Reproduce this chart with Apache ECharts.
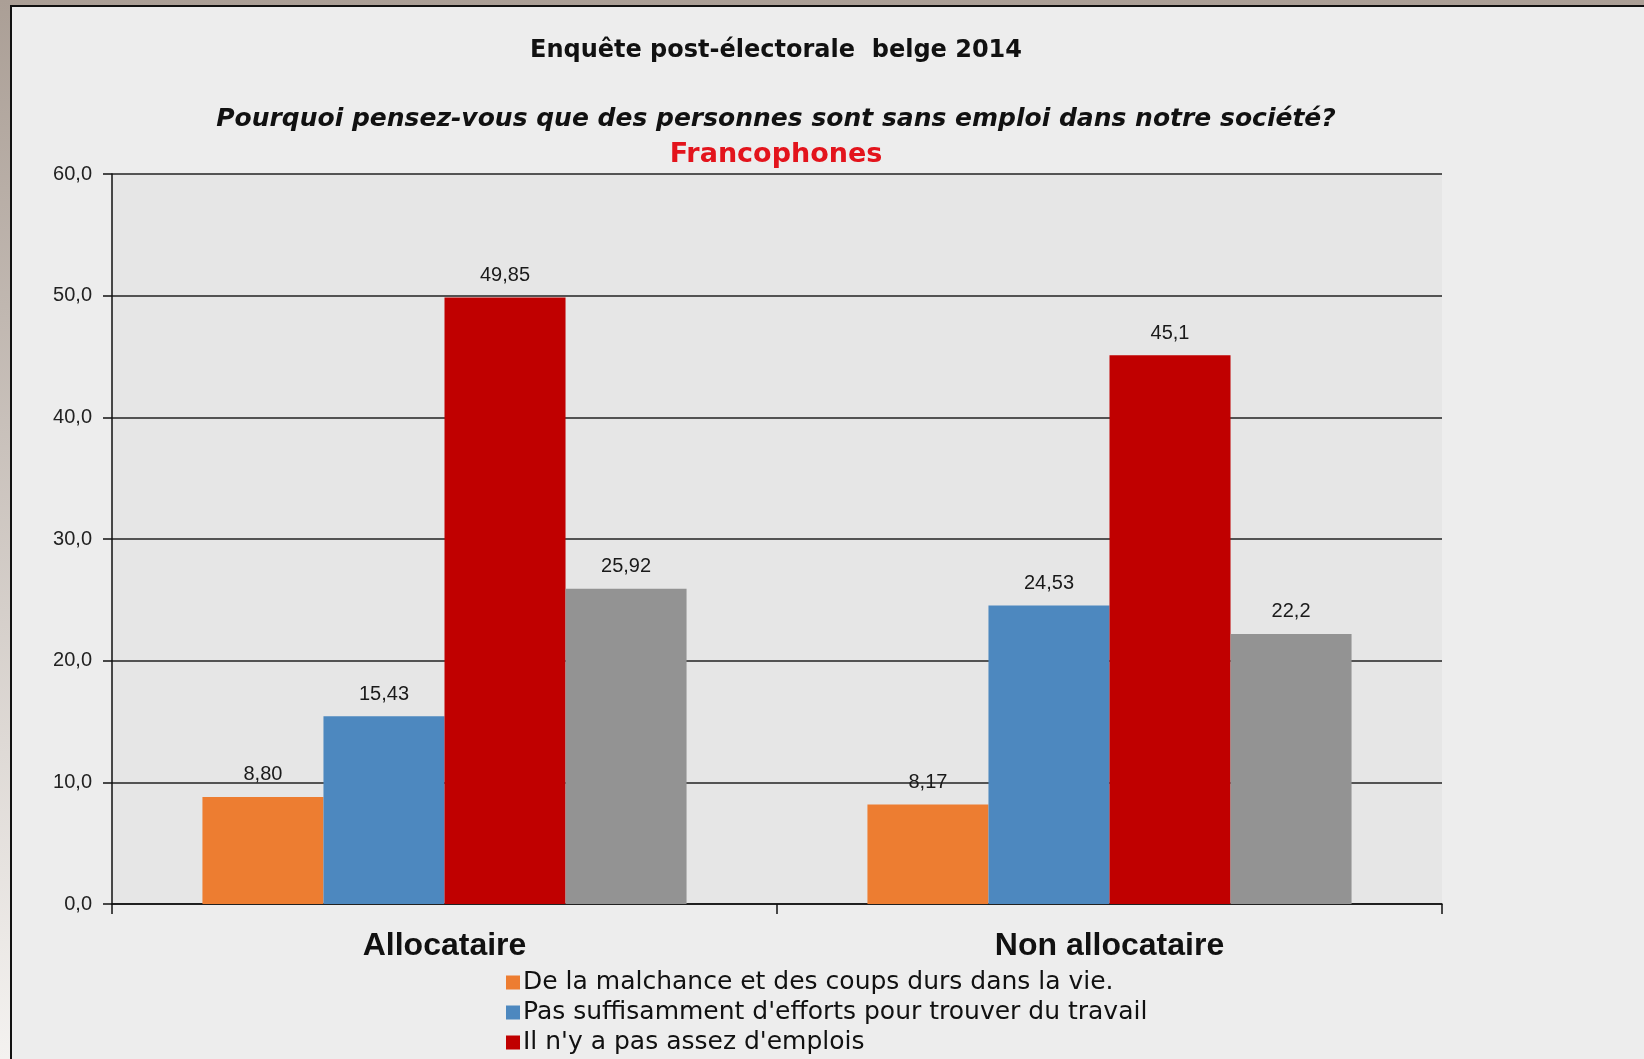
<!DOCTYPE html>
<html>
<head>
<meta charset="utf-8">
<title>Enquête post-électorale belge 2014</title>
<script src="https://cdn.jsdelivr.net/npm/echarts@6/dist/echarts.min.js"></script>
<style>
	html, body { margin: 0; padding: 0; width: 1644px; height: 1059px; overflow: hidden; }
	#frame { position: absolute; left: 0; top: 0; width: 1644px; height: 1059px;
		background: linear-gradient(to bottom, #ab9f96, #f4f2f0); }
	#paper { position: absolute; left: 10px; top: 5px; right: 0; bottom: 0;
		border-left: 2px solid #111; border-top: 2px solid #111; background: #ededed; }
	#chart { position: absolute; left: 0; top: 0; width: 1644px; height: 1059px; }
</style>
</head>
<body>
<div id="frame"></div>
<div id="paper"></div>
<div id="chart"></div>
<script>
	// données
	const categories = ['Allocataire', 'Non allocataire']
	const seriesNames = [
		'De la malchance et des coups durs dans la vie.',
		"Pas suffisamment d'efforts pour trouver du travail",
		"Il n'y a pas assez d'emplois",
		'Autre'
	]
	const malchance = [8.80, 8.17]
	const efforts = [15.43, 24.53]
	const emplois = [49.85, 45.1]
	const autre = [25.92, 22.2]
	// étiquettes telles qu'affichées
	const malchanceLabels = ['8,80', '8,17']
	const effortsLabels = ['15,43', '24,53']
	const emploisLabels = ['49,85', '45,1']
	const autreLabels = ['25,92', '22,2']
	const yTicks = { min: 0, max: 60, interval: 10 }

	const colors = ['#ed7d31', '#4d88bf', '#c00000', '#939393']
	const values = [malchance, efforts, emplois, autre]
	const labels = [malchanceLabels, effortsLabels, emploisLabels, autreLabels]

	const chart = echarts.init(document.getElementById('chart'))

	const series = values.map((vals, i) => ({
		name: seriesNames[i],
		type: 'bar',
		data: vals,
		barGap: '0%',
		barCategoryGap: '27.2%',
		itemStyle: { color: colors[i] },
		label: {
			show: true,
			position: 'top',
			distance: 12,
			color: '#1a1a1a',
			fontFamily: 'Liberation Sans, Arial, sans-serif',
			fontSize: 20,
			formatter: p => labels[i][p.dataIndex]
		}
	}))

	const option = {
		animation: false,
		backgroundColor: 'transparent',
		title: [{
			text: 'Enquête post-électorale  belge 2014',
			left: 776,
			top: 39,
			padding: 0,
			textAlign: 'center',
			textStyle: { fontFamily: 'DejaVu Sans, sans-serif', fontWeight: 'bold', fontSize: 24, color: '#111' }
		}, {
			text: 'Pourquoi pensez-vous que des personnes sont sans emploi dans notre société?',
			left: 776,
			top: 107,
			padding: 0,
			textAlign: 'center',
			textStyle: { fontFamily: 'DejaVu Sans, sans-serif', fontWeight: 'bold', fontStyle: 'italic', fontSize: 25, color: '#111' }
		}, {
			text: 'Francophones',
			left: 776,
			top: 141,
			padding: 0,
			textAlign: 'center',
			textStyle: { fontFamily: 'DejaVu Sans, sans-serif', fontWeight: 'bold', fontSize: 27, color: '#e3141c' }
		}],
		legend: {
			orient: 'vertical',
			left: 506,
			top: 970,
			padding: 0,
			itemWidth: 14,
			itemHeight: 14,
			itemGap: 5,
			icon: 'rect',
			data: seriesNames.slice(0, 3),
			textStyle: { fontFamily: 'DejaVu Sans, sans-serif', fontSize: 25, color: '#111', lineHeight: 25, padding: [0, 0, 0, -2] }
		},
		grid: {
			left: 112,
			right: 202,
			top: 174,
			bottom: 155,
			show: true,
			backgroundColor: '#e6e6e6',
			borderWidth: 0,
			outerBoundsMode: 'none'
		},
		xAxis: {
			type: 'category',
			data: categories,
			axisLine: { lineStyle: { color: '#111', width: 1.5 } },
			axisTick: { show: true, length: 10, lineStyle: { color: '#111', width: 1.5 } },
			axisLabel: {
				margin: 26,
				color: '#111',
				fontFamily: 'Liberation Sans, Arial, sans-serif',
				fontWeight: 'bold',
				fontSize: 32
			}
		},
		yAxis: {
			type: 'value',
			min: yTicks.min,
			max: yTicks.max,
			interval: yTicks.interval,
			axisLine: { show: true, lineStyle: { color: '#111', width: 1.5 } },
			axisTick: { show: true, length: 9, lineStyle: { color: '#111', width: 1.5 } },
			axisLabel: {
				margin: 20,
				color: '#222',
				fontFamily: 'Liberation Sans, Arial, sans-serif',
				fontSize: 20,
				formatter: v => v.toFixed(1).replace('.', ',')
			},
			splitLine: { show: true, lineStyle: { color: '#222', width: 1.5 } }
		},
		series: series
	}

	chart.setOption(option)
</script>
</body>
</html>
